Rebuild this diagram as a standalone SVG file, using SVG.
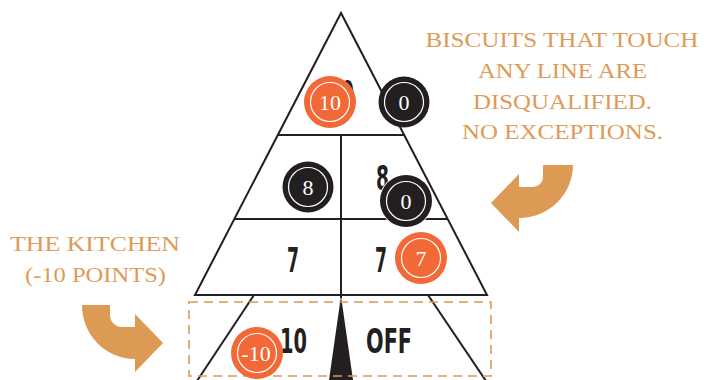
<svg xmlns="http://www.w3.org/2000/svg" width="704" height="380" viewBox="0 0 704 380">
<style>
.ln{fill:none;stroke:#231f20;stroke-width:2}
.note{font-family:"Liberation Serif","Times New Roman",serif;font-size:21px;fill:#dd9b57;text-anchor:middle}
.num{font-family:"DejaVu Sans Condensed","DejaVu Sans",sans-serif;font-weight:bold;font-stretch:condensed;font-size:33px;fill:#231f20;text-anchor:middle}
.pk{font-family:"Liberation Serif","Times New Roman",serif;font-size:22px;fill:#ffffff;text-anchor:middle}
.ring{fill:none;stroke:#ffffff;stroke-width:1.2}
.or{fill:#f26836}
.bk{fill:#231f20}
.arrow{fill:#dd9a55}
</style>
<g id="court">
<polygon class="ln" points="341,13 195,295 487,295"/>
<line class="ln" x1="278" y1="135" x2="404" y2="135"/>
<line class="ln" x1="235" y1="219" x2="447" y2="219"/>
<line class="ln" x1="341" y1="135" x2="341" y2="298"/>
<line class="ln" x1="254" y1="295" x2="197" y2="381"/>
<line class="ln" x1="428" y1="295" x2="486" y2="381"/>
<polygon class="bk" points="341,296 329,380 353,380"/>
</g>
<g id="zone-labels">
<text class="num" x="341" y="105" textLength="26" lengthAdjust="spacingAndGlyphs">10</text>
<text class="num" x="382.5" y="190" textLength="13" lengthAdjust="spacingAndGlyphs">8</text>
<text class="num" x="293" y="272" textLength="12" lengthAdjust="spacingAndGlyphs">7</text>
<text class="num" x="381" y="272" textLength="12" lengthAdjust="spacingAndGlyphs">7</text>
<text class="num" x="293.5" y="353" font-size="31" textLength="27" lengthAdjust="spacingAndGlyphs">10</text>
<text class="num" x="389" y="353" font-size="31" textLength="46" lengthAdjust="spacingAndGlyphs">OFF</text>
</g>
<g id="kitchen">
<rect x="189" y="302" width="302" height="74" fill="none" stroke="#dd9a55" stroke-width="1.6" stroke-dasharray="9,6"/>
</g>
<g id="puck-10">
<circle class="or" cx="330" cy="102" r="26"/>
<circle class="ring" cx="330" cy="102" r="19.5"/>
<text class="pk" x="330" y="109.5">10</text>
</g>
<g id="puck-0-top">
<circle class="bk" cx="404" cy="102" r="25.5"/>
<circle class="ring" cx="404" cy="102" r="19.5"/>
<text class="pk" x="404" y="109.5">0</text>
</g>
<g id="puck-8">
<circle class="bk" cx="308" cy="187" r="25.5"/>
<circle class="ring" cx="308" cy="187" r="19.5"/>
<text class="pk" x="308" y="194.5">8</text>
</g>
<g id="puck-0-mid">
<circle cx="406" cy="201" r="27" fill="#ffffff"/>
<circle class="bk" cx="406" cy="201" r="26"/>
<circle class="ring" cx="406" cy="201" r="19.5"/>
<text class="pk" x="406" y="208.5">0</text>
</g>
<g id="puck-7">
<circle class="or" cx="421" cy="258" r="26"/>
<circle class="ring" cx="421" cy="258" r="19.5"/>
<text class="pk" x="421" y="265.5">7</text>
</g>
<g id="puck-minus10">
<circle class="or" cx="257" cy="353" r="26"/>
<circle class="ring" cx="257" cy="353" r="19.5"/>
<text class="pk" x="256" y="360.5">-10</text>
</g>
<g id="note-right">
<text class="note" x="562" y="47" textLength="273" lengthAdjust="spacingAndGlyphs">BISCUITS THAT TOUCH</text>
<text class="note" x="562.5" y="78" textLength="169" lengthAdjust="spacingAndGlyphs">ANY LINE ARE</text>
<text class="note" x="562.5" y="109" textLength="179" lengthAdjust="spacingAndGlyphs">DISQUALIFIED.</text>
<text class="note" x="562.5" y="139" textLength="201" lengthAdjust="spacingAndGlyphs">NO EXCEPTIONS.</text>
</g>
<g id="note-left">
<text class="note" x="95" y="251" textLength="170" lengthAdjust="spacingAndGlyphs">THE KITCHEN</text>
<text class="note" x="95.5" y="282" textLength="141" lengthAdjust="spacingAndGlyphs">(-10 POINTS)</text>
</g>
<g id="connectors">
<path class="arrow" d="M82,305 L110,305 L110,315 A12,12 0 0 0 122,327 L135,327 L135,314 L163,343 L135,372 L135,359 A53,54 0 0 1 82,305 Z"/>
<path class="arrow" d="M573,165 L543,165 L543,177 A10,10 0 0 1 533,187 L519,187 L519,174 L491,203 L519,232 L519,218 A54,53 0 0 0 573,165 Z"/>
</g>
</svg>
